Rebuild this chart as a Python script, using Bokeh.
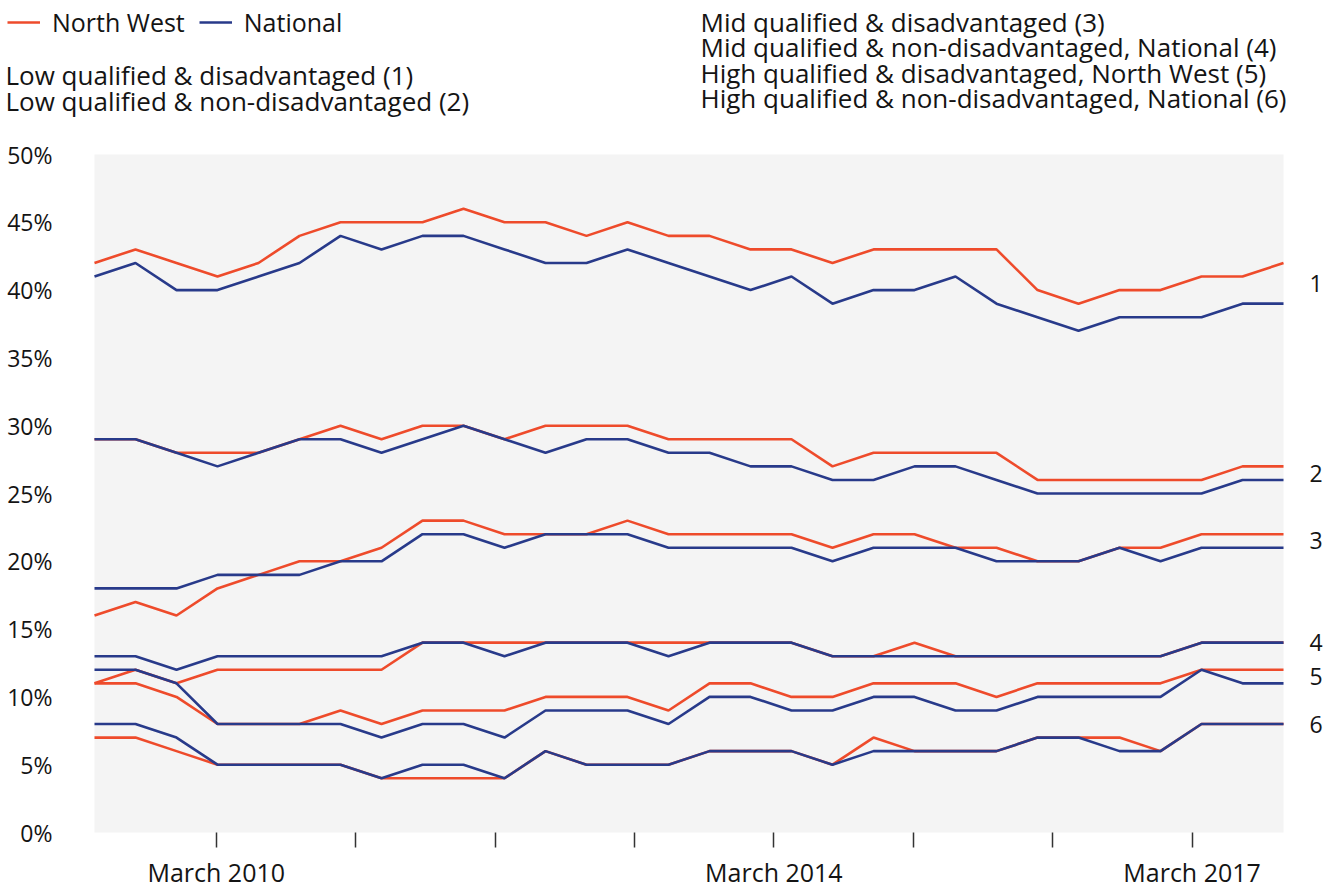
from bokeh.plotting import figure
from bokeh.models import (Range1d, FixedTicker, Legend, LegendItem, LinearAxis,
                          Label, BoxAnnotation)
from bokeh.embed import file_html
from bokeh.resources import INLINE

# ---------------- data (percent) ----------------
nw_1 = [42, 43, 42, 41, 42, 44, 45, 45, 45, 46, 45, 45, 44, 45, 44, 44, 43, 43, 42, 43, 43, 43, 43, 40, 39, 40, 40, 41, 41, 42]
nat_1 = [41, 42, 40, 40, 41, 42, 44, 43, 44, 44, 43, 42, 42, 43, 42, 41, 40, 41, 39, 40, 40, 41, 39, 38, 37, 38, 38, 38, 39, 39]
nw_2 = [29, 29, 28, 28, 28, 29, 30, 29, 30, 30, 29, 30, 30, 30, 29, 29, 29, 29, 27, 28, 28, 28, 28, 26, 26, 26, 26, 26, 27, 27]
nat_2 = [29, 29, 28, 27, 28, 29, 29, 28, 29, 30, 29, 28, 29, 29, 28, 28, 27, 27, 26, 26, 27, 27, 26, 25, 25, 25, 25, 25, 26, 26]
nw_3 = [16, 17, 16, 18, 19, 20, 20, 21, 23, 23, 22, 22, 22, 23, 22, 22, 22, 22, 21, 22, 22, 21, 21, 20, 20, 21, 21, 22, 22, 22]
nat_3 = [18, 18, 18, 19, 19, 19, 20, 20, 22, 22, 21, 22, 22, 22, 21, 21, 21, 21, 20, 21, 21, 21, 20, 20, 20, 21, 20, 21, 21, 21]
nw_4 = [11, 12, 11, 12, 12, 12, 12, 12, 14, 14, 14, 14, 14, 14, 14, 14, 14, 14, 13, 13, 14, 13, 13, 13, 13, 13, 13, 14, 14, 14]
nat_4 = [13, 13, 12, 13, 13, 13, 13, 13, 14, 14, 13, 14, 14, 14, 13, 14, 14, 14, 13, 13, 13, 13, 13, 13, 13, 13, 13, 14, 14, 14]
nw_5 = [11, 11, 10, 8, 8, 8, 9, 8, 9, 9, 9, 10, 10, 10, 9, 11, 11, 10, 10, 11, 11, 11, 10, 11, 11, 11, 11, 12, 12, 12]
nat_5 = [12, 12, 11, 8, 8, 8, 8, 7, 8, 8, 7, 9, 9, 9, 8, 10, 10, 9, 9, 10, 10, 9, 9, 10, 10, 10, 10, 12, 11, 11]
nw_6 = [7, 7, 6, 5, 5, 5, 5, 4, 4, 4, 4, 6, 5, 5, 5, 6, 6, 6, 5, 7, 6, 6, 6, 7, 7, 7, 6, 8, 8, 8]
nat_6 = [8, 8, 7, 5, 5, 5, 5, 4, 5, 5, 4, 6, 5, 5, 5, 6, 6, 6, 5, 6, 6, 6, 6, 7, 7, 6, 6, 8, 8, 8]

north_west = [nw_1, nw_2, nw_3, nw_4, nw_5, nw_6]
national = [nat_1, nat_2, nat_3, nat_4, nat_5, nat_6]
series_numbers = ["1", "2", "3", "4", "5", "6"]

legend_names = ["North West", "National"]
left_notes = ["Low qualified & disadvantaged (1)",
              "Low qualified & non-disadvantaged (2)"]
right_notes = ["Mid qualified & disadvantaged (3)",
               "Mid qualified & non-disadvantaged, National (4)",
               "High qualified & disadvantaged, North West (5)",
               "High qualified & non-disadvantaged, National (6)"]

y_ticks = [0, 5, 10, 15, 20, 25, 30, 35, 40, 45, 50]
band_edges = [6.3, 12.5, 19.0, 25.4, 31.9, 37.5, 43.9]

years = [2010, 2011, 2012, 2013, 2014, 2015, 2016, 2017]
labelled_years = {2010: "March 2010", 2014: "March 2014", 2017: "March 2017"}
MARCH_2010_POS = 2.97      # position of March 2010 on the period index scale
PERIODS_PER_YEAR = 3.40

# ---------------- layout / style ----------------
FONT = "Open Sans"
RED = "#EE4B2B"
BLUE = "#283A8A"
GREY = "#F4F4F4"
TXT = "#141414"
W, H = 1335, 890
PLOT_L, PLOT_R, PLOT_T, PLOT_B = 94, 1283, 154, 832   # plotting area in px

idx = list(range(len(nw_1)))
n = len(idx)
Y_MAX = y_ticks[-1]

# the frame covers the whole canvas; the plotting area is a sub-region of it
px_per_x = (PLOT_R - PLOT_L) / (n - 1)
px_per_y = (PLOT_B - PLOT_T) / Y_MAX
x_range = Range1d(-PLOT_L / px_per_x, (n - 1) + (W - PLOT_R) / px_per_x)
y_range = Range1d(-(H - PLOT_B) / px_per_y, Y_MAX + PLOT_T / px_per_y)

p = figure(width=W, height=H, output_backend="svg", toolbar_location=None,
           x_range=x_range, y_range=y_range, min_border=0,
           x_axis_type=None, y_axis_type=None)
p.background_fill_color = "white"
p.border_fill_color = "white"
p.outline_line_color = None
p.xgrid.grid_line_color = None
p.ygrid.grid_line_color = None

# grey plotting area and white separators between groups
p.add_layout(BoxAnnotation(left=idx[0], right=idx[-1], bottom=0, top=Y_MAX,
                           fill_color=GREY, fill_alpha=1, line_color=None, level="underlay"))
p.segment(x0=[idx[0]] * len(band_edges), x1=[idx[-1]] * len(band_edges),
          y0=band_edges, y1=band_edges, line_color="white", line_width=3.5, level="underlay")

# y axis (left)
yax = LinearAxis(fixed_location=idx[0], ticker=FixedTicker(ticks=y_ticks),
                 major_label_overrides={t: f"{t}%" for t in y_ticks})
yax.axis_line_color = None
yax.major_tick_line_color = None
yax.minor_tick_line_color = None
yax.major_label_standoff = 36
yax.major_label_text_font = FONT
yax.major_label_text_font_size = "23px"
yax.major_label_text_color = TXT
p.add_layout(yax, "left")

# x axis (below)
tick_pos = [MARCH_2010_POS + (y - 2010) * PERIODS_PER_YEAR for y in years]
xax = LinearAxis(fixed_location=0, ticker=FixedTicker(ticks=tick_pos),
                 major_label_overrides={tp: labelled_years.get(y, "") for tp, y in zip(tick_pos, years)})
xax.axis_line_color = None
xax.major_tick_in = 0
xax.major_tick_out = 15
xax.major_tick_line_color = "#333333"
xax.major_tick_line_width = 1.5
xax.minor_tick_line_color = None
xax.major_label_standoff = 7
xax.major_label_text_font = FONT
xax.major_label_text_font_size = "25px"
xax.major_label_text_color = TXT
p.add_layout(xax, "below")

# group numbers: a right-hand axis placed at each group's end values
end_pos = [(a[-1] + b[-1]) / 2 for a, b in zip(north_west, national)]
rax = LinearAxis(fixed_location=idx[-1], ticker=FixedTicker(ticks=end_pos),
                 major_label_overrides={v: s for v, s in zip(end_pos, series_numbers)})
rax.axis_line_color = None
rax.major_tick_line_color = None
rax.minor_tick_line_color = None
rax.major_label_standoff = 20
rax.major_label_text_font = FONT
rax.major_label_text_font_size = "23px"
rax.major_label_text_color = TXT
p.add_layout(rax, "right")

# lines
red_r = [p.line(idx, s, line_color=RED, line_width=2.6) for s in north_west]
blue_r = [p.line(idx, s, line_color=BLUE, line_width=2.6) for s in national]

# series key
ROW_H = 34
key = Legend(items=[LegendItem(label=legend_names[0], renderers=[red_r[0]]),
                    LegendItem(label=legend_names[1], renderers=[blue_r[0]])],
             orientation="horizontal", location=(7, H - 5 - ROW_H),
             padding=0, margin=0, spacing=14, label_standoff=12,
             glyph_width=33, glyph_height=ROW_H, label_height=ROW_H,
             label_text_font=FONT, label_text_font_size="25px", label_text_color=TXT,
             border_line_color=None, background_fill_alpha=0)
p.add_layout(key)

# notes (positions in px from the top of the canvas)
for t, ypos in zip(left_notes, [74, 100]):
    p.add_layout(Label(x=5, y=H - ypos, x_units="screen", y_units="screen", text=t,
                       text_font=FONT, text_font_size="26px", text_color=TXT,
                       text_baseline="alphabetic"))
for t, ypos in zip(right_notes, [21, 46.5, 72, 97.5]):
    p.add_layout(Label(x=700, y=H - ypos, x_units="screen", y_units="screen", text=t,
                       text_font=FONT, text_font_size="26px", text_color=TXT,
                       text_baseline="alphabetic"))

open("out.html", "w").write(file_html(p, INLINE))
